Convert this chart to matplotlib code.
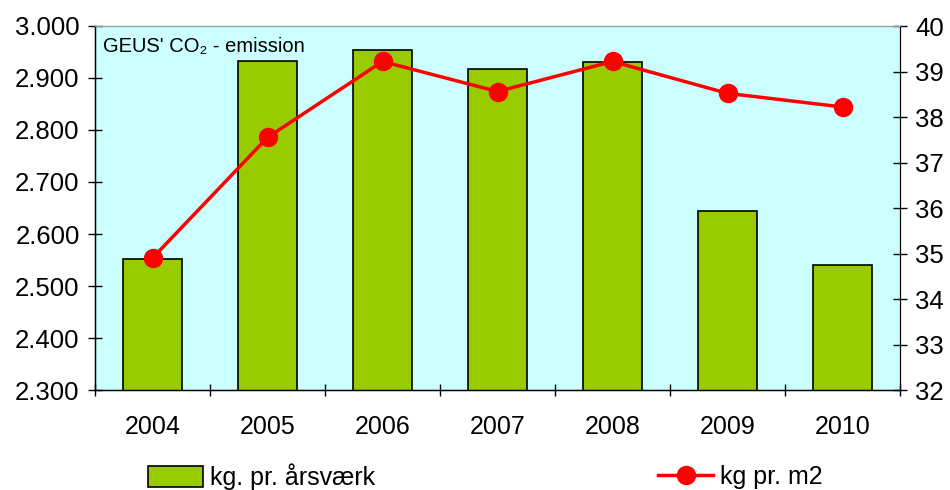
import matplotlib
matplotlib.use("Agg")
import matplotlib.pyplot as plt
from matplotlib.ticker import FuncFormatter, FixedLocator

years = ["2004", "2005", "2006", "2007", "2008", "2009", "2010"]
kg_per_aarsvaerk = [2552, 2933, 2954, 2917, 2931, 2644, 2540]
kg_per_m2 = [34.9, 37.55, 39.22, 38.56, 39.22, 38.52, 38.22]

left_ticks = [2300, 2400, 2500, 2600, 2700, 2800, 2900, 3000]
right_ticks = [32, 33, 34, 35, 36, 37, 38, 39, 40]

plt.rcParams['font.family'] = ['Liberation Sans', 'DejaVu Sans']

fig = plt.figure(figsize=(9.5, 4.9), dpi=100)
ax = fig.add_axes([95/950, 100/490, 805/950, 364/490])
ax.set_facecolor('#CCFFFF')

x = list(range(len(years)))
ax.bar(x, kg_per_aarsvaerk, width=0.51, color='#99CC00', edgecolor='black',
       linewidth=1.2, zorder=2, label='kg. pr. årsværk')
ax.set_xlim(-0.5, len(years) - 0.5)
ax.set_ylim(2300, 3000)
ax.set_yticks(left_ticks)
ax.yaxis.set_major_formatter(FuncFormatter(lambda v, p: f"{v/1000:.3f}"))
ax.set_xticks(x)
ax.set_xticklabels(years)
ax.xaxis.set_minor_locator(FixedLocator([i - 0.5 for i in range(len(years) + 1)]))
ax.tick_params(axis='x', which='major', length=0, labelsize=18, pad=18)
ax.tick_params(axis='x', which='minor', length=8, direction='inout', width=1)
ax.tick_params(axis='y', length=10, direction='inout', width=1, labelsize=18.5, pad=6)
for s in ['left', 'bottom']:
    ax.spines[s].set_color('black')
    ax.spines[s].set_linewidth(1)
ax.spines['top'].set_color('#999999')
ax.spines['right'].set_color('black')

ax2 = ax.twinx()
ax2.plot(x, kg_per_m2, color='red', linewidth=2.5, marker='o', markersize=13,
         zorder=3, label='kg pr. m2')
ax2.set_ylim(32, 40)
ax2.set_yticks(right_ticks)
ax2.tick_params(axis='y', length=10, direction='inout', width=1, labelsize=18.5, pad=6)
ax2.spines['top'].set_color('#999999')
ax2.spines['right'].set_color('black')

ax.text(0.01, 0.945, "GEUS' CO\u2082 - emission", transform=ax.transAxes,
        fontsize=14.5, ha='left', va='center')

h1, l1 = ax.get_legend_handles_labels()
h2, l2 = ax2.get_legend_handles_labels()
fig.legend(h1, l1, loc='center left', bbox_to_anchor=(148/950, 13/490),
           frameon=False, fontsize=18, handlelength=2.2, handleheight=0.9,
           handletextpad=0.3, borderaxespad=0, borderpad=0)
fig.legend(h2, l2, loc='center left', bbox_to_anchor=(658/950, 13/490),
           frameon=False, fontsize=18, handlelength=2.2,
           handletextpad=0.3, borderaxespad=0, borderpad=0)

fig.savefig('out.png', dpi=100)
